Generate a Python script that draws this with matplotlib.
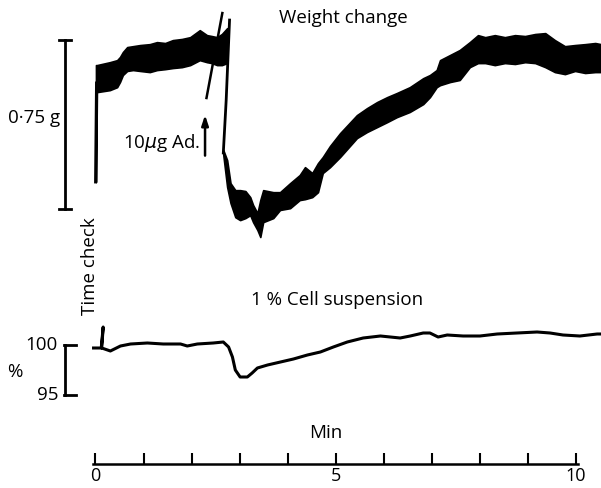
import matplotlib
matplotlib.use('Agg')
import matplotlib.pyplot as plt

plt.rcParams['font.family'] = ['Open Sans', 'DejaVu Sans']
plt.rcParams['font.weight'] = 'medium'

# weight trace, before the drop (time in min, weight in g above the scale-bar zero)
w1_t = [0.01, 0.03, 0.30, 0.45, 0.51, 0.57, 0.66, 0.78, 0.93, 1.13, 1.28, 1.45, 1.61, 1.80,
        1.97, 2.17, 2.32, 2.42, 2.53, 2.63, 2.74]
w1_top = [0.639, 0.639, 0.652, 0.661, 0.675, 0.697, 0.719, 0.723, 0.728, 0.732, 0.741, 0.737,
          0.750, 0.755, 0.763, 0.794, 0.772, 0.768, 0.763, 0.777, 0.803]
w1_bot = [0.120, 0.519, 0.528, 0.541, 0.564, 0.595, 0.613, 0.617, 0.613, 0.608, 0.617, 0.621,
          0.626, 0.630, 0.639, 0.661, 0.652, 0.648, 0.639, 0.639, 0.648]

# weight trace, after the adrenaline drop
w2_t = [2.66, 2.74, 2.81, 2.91, 3.01, 3.12, 3.22, 3.28, 3.37, 3.43, 3.49, 3.70, 3.84, 4.05,
        4.25, 4.36, 4.51, 4.63, 4.73, 4.88, 5.09, 5.44, 5.65, 5.86, 6.07, 6.27, 6.54, 6.82,
        6.96, 7.10, 7.17, 7.38, 7.58, 7.79, 7.96, 8.11, 8.31, 8.52, 8.73, 8.94, 9.15, 9.36,
        9.56, 9.77, 9.98, 10.19, 10.40, 10.52]
w2_top = [0.262, 0.217, 0.115, 0.084, 0.084, 0.080, 0.053, 0.018, -0.018, 0.040, 0.084, 0.075,
          0.075, 0.115, 0.151, 0.186, 0.160, 0.204, 0.231, 0.280, 0.337, 0.417, 0.448, 0.475,
          0.497, 0.515, 0.541, 0.581, 0.595, 0.617, 0.661, 0.684, 0.706, 0.741, 0.772, 0.763,
          0.772, 0.763, 0.772, 0.768, 0.777, 0.781, 0.750, 0.723, 0.728, 0.732, 0.737, 0.732]
w2_bot = [0.240, 0.098, 0.027, -0.036, -0.049, -0.040, -0.027, -0.058, -0.093, -0.124, -0.058,
          -0.040, -0.004, 0.004, 0.040, 0.044, 0.053, 0.075, 0.160, 0.186, 0.231, 0.315, 0.342,
          0.364, 0.386, 0.408, 0.431, 0.466, 0.497, 0.541, 0.550, 0.564, 0.573, 0.630, 0.648,
          0.648, 0.639, 0.648, 0.644, 0.652, 0.648, 0.630, 0.608, 0.599, 0.613, 0.604, 0.608,
          0.608]

# pen strokes: initial rise, the fast drop and the stray slanted line
rise_t = [0.00, 0.02]
rise_w = [0.120, 0.560]
drop_t = [2.79, 2.72, 2.66]
drop_w = [0.839, 0.484, 0.249]
stroke_t = [2.64, 2.31]
stroke_w = [0.870, 0.493]

# 1 % cell suspension trace (% of initial)
cs_t = [-0.04, 0.12, 0.16, 0.13, 0.31, 0.52, 0.73, 1.08, 1.41, 1.77, 1.91, 2.12, 2.45, 2.66,
        2.77, 2.85, 2.91, 3.01, 3.16, 3.26, 3.37, 3.58, 3.85, 4.12, 4.41, 4.68, 4.95, 5.24,
        5.57, 5.93, 6.34, 6.55, 6.82, 6.96, 7.13, 7.32, 7.65, 8.00, 8.36, 8.77, 9.19, 9.46,
        9.73, 10.08, 10.44, 10.52]
cs_pct = [99.7, 99.7, 101.8, 99.7, 99.4, 99.9, 100.1, 100.2, 100.1, 100.1, 99.9, 100.1, 100.2,
          100.3, 99.8, 98.8, 97.5, 96.8, 96.8, 97.2, 97.7, 98.0, 98.3, 98.6, 99.0, 99.3, 99.8,
          100.3, 100.7, 100.9, 100.7, 100.9, 101.2, 101.2, 100.8, 101.0, 100.9, 100.9, 101.1,
          101.2, 101.3, 101.2, 101.0, 100.9, 101.1, 101.1]

minutes = list(range(0, 11))
minute_labels = ['0', '', '', '', '', '5', '', '', '', '', '10']

fs = 13.5
fig = plt.figure(figsize=(6.01, 4.88), dpi=100)
xlim = (-1.987, 10.52)

# weight panel
axw = fig.add_axes([0, 0, 1, 1])
axw.set_xlim(xlim)
axw.set_ylim(-1.238, 0.928)
axw.axis('off')
axw.fill_between(w1_t, w1_bot, w1_top, color='black', lw=1.2)
axw.fill_between(w2_t, w2_bot, w2_top, color='black', lw=1.2)
axw.plot(rise_t, rise_w, color='black', lw=2.0)
axw.plot(drop_t, drop_w, color='black', lw=2.0)
axw.plot(stroke_t, stroke_w, color='black', lw=1.8)
# 0.75 g scale bar
axw.plot([-0.635, -0.635], [0, 0.75], color='black', lw=2.0)
axw.plot([-0.76, -0.50], [0, 0], color='black', lw=2.0)
axw.plot([-0.76, -0.50], [0.75, 0.75], color='black', lw=2.0)
axw.text(-0.74, 0.404, '0·75 g', ha='right', va='center', fontsize=fs)
axw.annotate('', xy=(2.28, 0.43), xytext=(2.28, 0.225),
             arrowprops=dict(arrowstyle='-|>,head_length=0.6,head_width=0.2', color='black', lw=1.8))
axw.text(2.17, 0.293, '10$\\mu$g Ad.', ha='right', va='center', fontsize=fs)
axw.text(5.15, 0.848, 'Weight change', ha='center', va='center', fontsize=fs)

# cell suspension panel
axp = fig.add_axes([0, 0, 1, 1])
axp.set_xlim(xlim)
axp.set_ylim(85.7, 134.5)
axp.axis('off')
axp.patch.set_alpha(0)
axp.plot(cs_t, cs_pct, color='black', lw=2.2, solid_joinstyle='round')
axp.plot([-0.635, -0.635], [95, 100], color='black', lw=2.0)
axp.plot([-0.66, -0.41], [100, 100], color='black', lw=2.0)
axp.plot([-0.66, -0.41], [95, 95], color='black', lw=2.0)
axp.text(-0.78, 100, '100', ha='right', va='center', fontsize=fs)
axp.text(-0.78, 95, '95', ha='right', va='center', fontsize=fs)
axp.text(-1.68, 97.3, '%', ha='center', va='center', fontsize=fs)
axp.text(5.03, 104.5, '1 % Cell suspension', ha='center', va='center', fontsize=fs)
axp.text(-0.12, 107.9, 'Time check', ha='center', va='center', rotation=90, fontsize=fs)
axp.text(4.80, 91.2, 'Min', ha='center', va='center', fontsize=fs)

# time axis
axt = fig.add_axes([0, 24 / 488, 1, 0.001])
axt.set_xlim(xlim)
for s in ['top', 'left', 'right']:
    axt.spines[s].set_visible(False)
axt.spines['bottom'].set_bounds(-0.05, 10.05)
axt.spines['bottom'].set_linewidth(1.8)
axt.set_yticks([])
axt.set_xticks(minutes)
axt.set_xticklabels(minute_labels, fontsize=13)
axt.tick_params(axis='x', direction='in', length=8, width=1.5, pad=2.5)
axt.patch.set_alpha(0)

fig.savefig('out.png', dpi=100)
